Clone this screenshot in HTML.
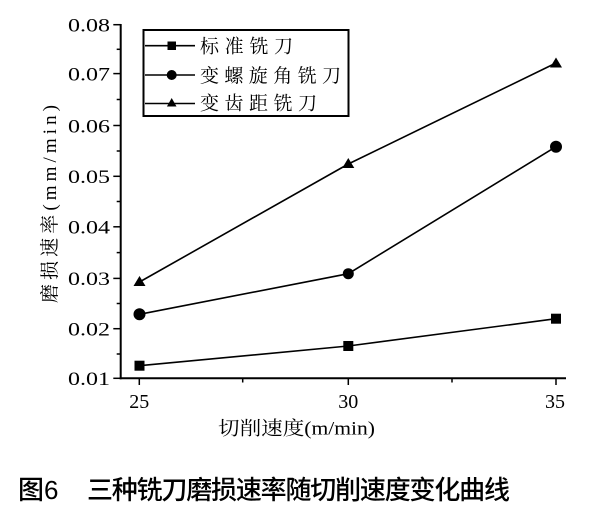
<!DOCTYPE html>
<html>
<head>
<meta charset="utf-8">
<style>
  html,body{margin:0;padding:0;background:#fff;}
  svg{display:block;}
  .sf{font-family:"Liberation Serif","DejaVu Serif","Noto Serif CJK SC",serif;}
  .cj{font-family:"Liberation Serif","DejaVu Serif","Noto Serif CJK SC",serif;}
</style>
</head>
<body>
<svg width="600" height="506" viewBox="0 0 600 506" xmlns="http://www.w3.org/2000/svg">
  <rect x="0" y="0" width="600" height="506" fill="#fff"/>

  <!-- axes -->
  <g stroke="#000" fill="none">
    <line x1="120.7" y1="24" x2="120.7" y2="379.3" stroke-width="2"/>
    <line x1="119.7" y1="378.3" x2="566" y2="378.3" stroke-width="2"/>
    <g stroke-width="1.5">
      <line x1="113.3" y1="24.7" x2="121" y2="24.7"/>
      <line x1="113.3" y1="73.6" x2="121" y2="73.6"/>
      <line x1="113.3" y1="125.5" x2="121" y2="125.5"/>
      <line x1="113.3" y1="176.3" x2="121" y2="176.3"/>
      <line x1="113.3" y1="226.8" x2="121" y2="226.8"/>
      <line x1="113.3" y1="278.4" x2="121" y2="278.4"/>
      <line x1="113.3" y1="328.7" x2="121" y2="328.7"/>
      <line x1="113.3" y1="378.3" x2="121" y2="378.3"/>
      <line x1="116.7" y1="49.3" x2="121" y2="49.3"/>
      <line x1="116.7" y1="99.5" x2="121" y2="99.5"/>
      <line x1="116.7" y1="151" x2="121" y2="151"/>
      <line x1="116.7" y1="201.5" x2="121" y2="201.5"/>
      <line x1="116.7" y1="252.6" x2="121" y2="252.6"/>
      <line x1="116.7" y1="303.5" x2="121" y2="303.5"/>
      <line x1="116.7" y1="354" x2="121" y2="354"/>
      <line x1="139.3" y1="378" x2="139.3" y2="385"/>
      <line x1="348.3" y1="378" x2="348.3" y2="385"/>
      <line x1="556" y1="378" x2="556" y2="385"/>
      <line x1="242.7" y1="378" x2="242.7" y2="382.5"/>
      <line x1="452" y1="378" x2="452" y2="382.5"/>
    </g>
  </g>

  <!-- y tick labels -->
  <g class="sf" font-size="19" fill="#000">
    <text x="68" y="31.5" textLength="42" lengthAdjust="spacingAndGlyphs">0.08</text>
    <text x="68" y="80.4" textLength="42" lengthAdjust="spacingAndGlyphs">0.07</text>
    <text x="68" y="132.3" textLength="42" lengthAdjust="spacingAndGlyphs">0.06</text>
    <text x="68" y="183.1" textLength="42" lengthAdjust="spacingAndGlyphs">0.05</text>
    <text x="68" y="233.6" textLength="42" lengthAdjust="spacingAndGlyphs">0.04</text>
    <text x="68" y="285.2" textLength="42" lengthAdjust="spacingAndGlyphs">0.03</text>
    <text x="68" y="335.5" textLength="42" lengthAdjust="spacingAndGlyphs">0.02</text>
    <text x="68" y="385.1" textLength="42" lengthAdjust="spacingAndGlyphs">0.01</text>
  </g>

  <!-- x tick labels -->
  <g class="sf" font-size="20" fill="#000" text-anchor="middle">
    <text x="139.3" y="408">25</text>
    <text x="348.3" y="408">30</text>
    <text x="555" y="408">35</text>
  </g>

  <!-- axis titles -->
  <text class="cj" x="218" y="434.5" font-size="19" textLength="157" lengthAdjust="spacingAndGlyphs" fill="#000">切削速度(m/min)</text>
  <text class="cj" transform="translate(56,303) rotate(-90)" x="0" y="0" font-size="19" textLength="198" lengthAdjust="spacing" fill="#000">磨损速率(mm/min)</text>

  <!-- series lines -->
  <g stroke="#000" stroke-width="1.6" fill="none">
    <polyline points="139.5,365.7 348.3,346 556,318.7"/>
    <polyline points="139.5,314.3 348.3,273.7 556,146.7"/>
    <polyline points="139.5,282 348.3,164 556,63"/>
  </g>

  <!-- markers -->
  <g fill="#000">
    <rect x="134.5" y="360.7" width="10" height="10"/>
    <rect x="343.3" y="341" width="10" height="10"/>
    <rect x="551" y="313.7" width="10" height="10"/>
    <circle cx="139.5" cy="314.3" r="6"/>
    <circle cx="348.3" cy="273.7" r="5.5"/>
    <circle cx="556" cy="146.7" r="6"/>
    <polygon points="139.5,276 145.5,286 133.5,286"/>
    <polygon points="348.3,158 354.3,168 342.3,168"/>
    <polygon points="556,57.5 562,67.5 550,67.5"/>
  </g>

  <!-- legend -->
  <rect x="143.5" y="30" width="205" height="86" fill="#fff" stroke="#000" stroke-width="2"/>
  <g stroke="#000" stroke-width="1.6">
    <line x1="145" y1="45.7" x2="195" y2="45.7"/>
    <line x1="145" y1="75" x2="195" y2="75"/>
    <line x1="145" y1="103.5" x2="195" y2="103.5"/>
  </g>
  <g fill="#000">
    <rect x="167.5" y="41.5" width="8.5" height="8.5"/>
    <circle cx="171.7" cy="75" r="5"/>
    <polygon points="171.7,98 176.5,106.5 166.9,106.5"/>
  </g>
  <g class="cj" font-size="19" fill="#000">
    <text x="200" y="52.5" textLength="93" lengthAdjust="spacing">标准铣刀</text>
    <text x="200" y="81.8" textLength="141" lengthAdjust="spacing">变螺旋角铣刀</text>
    <text x="200" y="109.5" textLength="117" lengthAdjust="spacing">变齿距铣刀</text>
  </g>

  <!-- caption -->
  <g font-size="26" fill="#000" style="font-family:'Noto Sans CJK SC',sans-serif;font-weight:500">
    <text x="18" y="499">图</text>
    <text x="44" y="499" style="font-family:'Liberation Sans','Noto Sans CJK SC',sans-serif;font-weight:normal">6</text>
    <text x="87" y="499" textLength="423" lengthAdjust="spacing">三种铣刀磨损速率随切削速度变化曲线</text>
  </g>
</svg>
</body>
</html>
